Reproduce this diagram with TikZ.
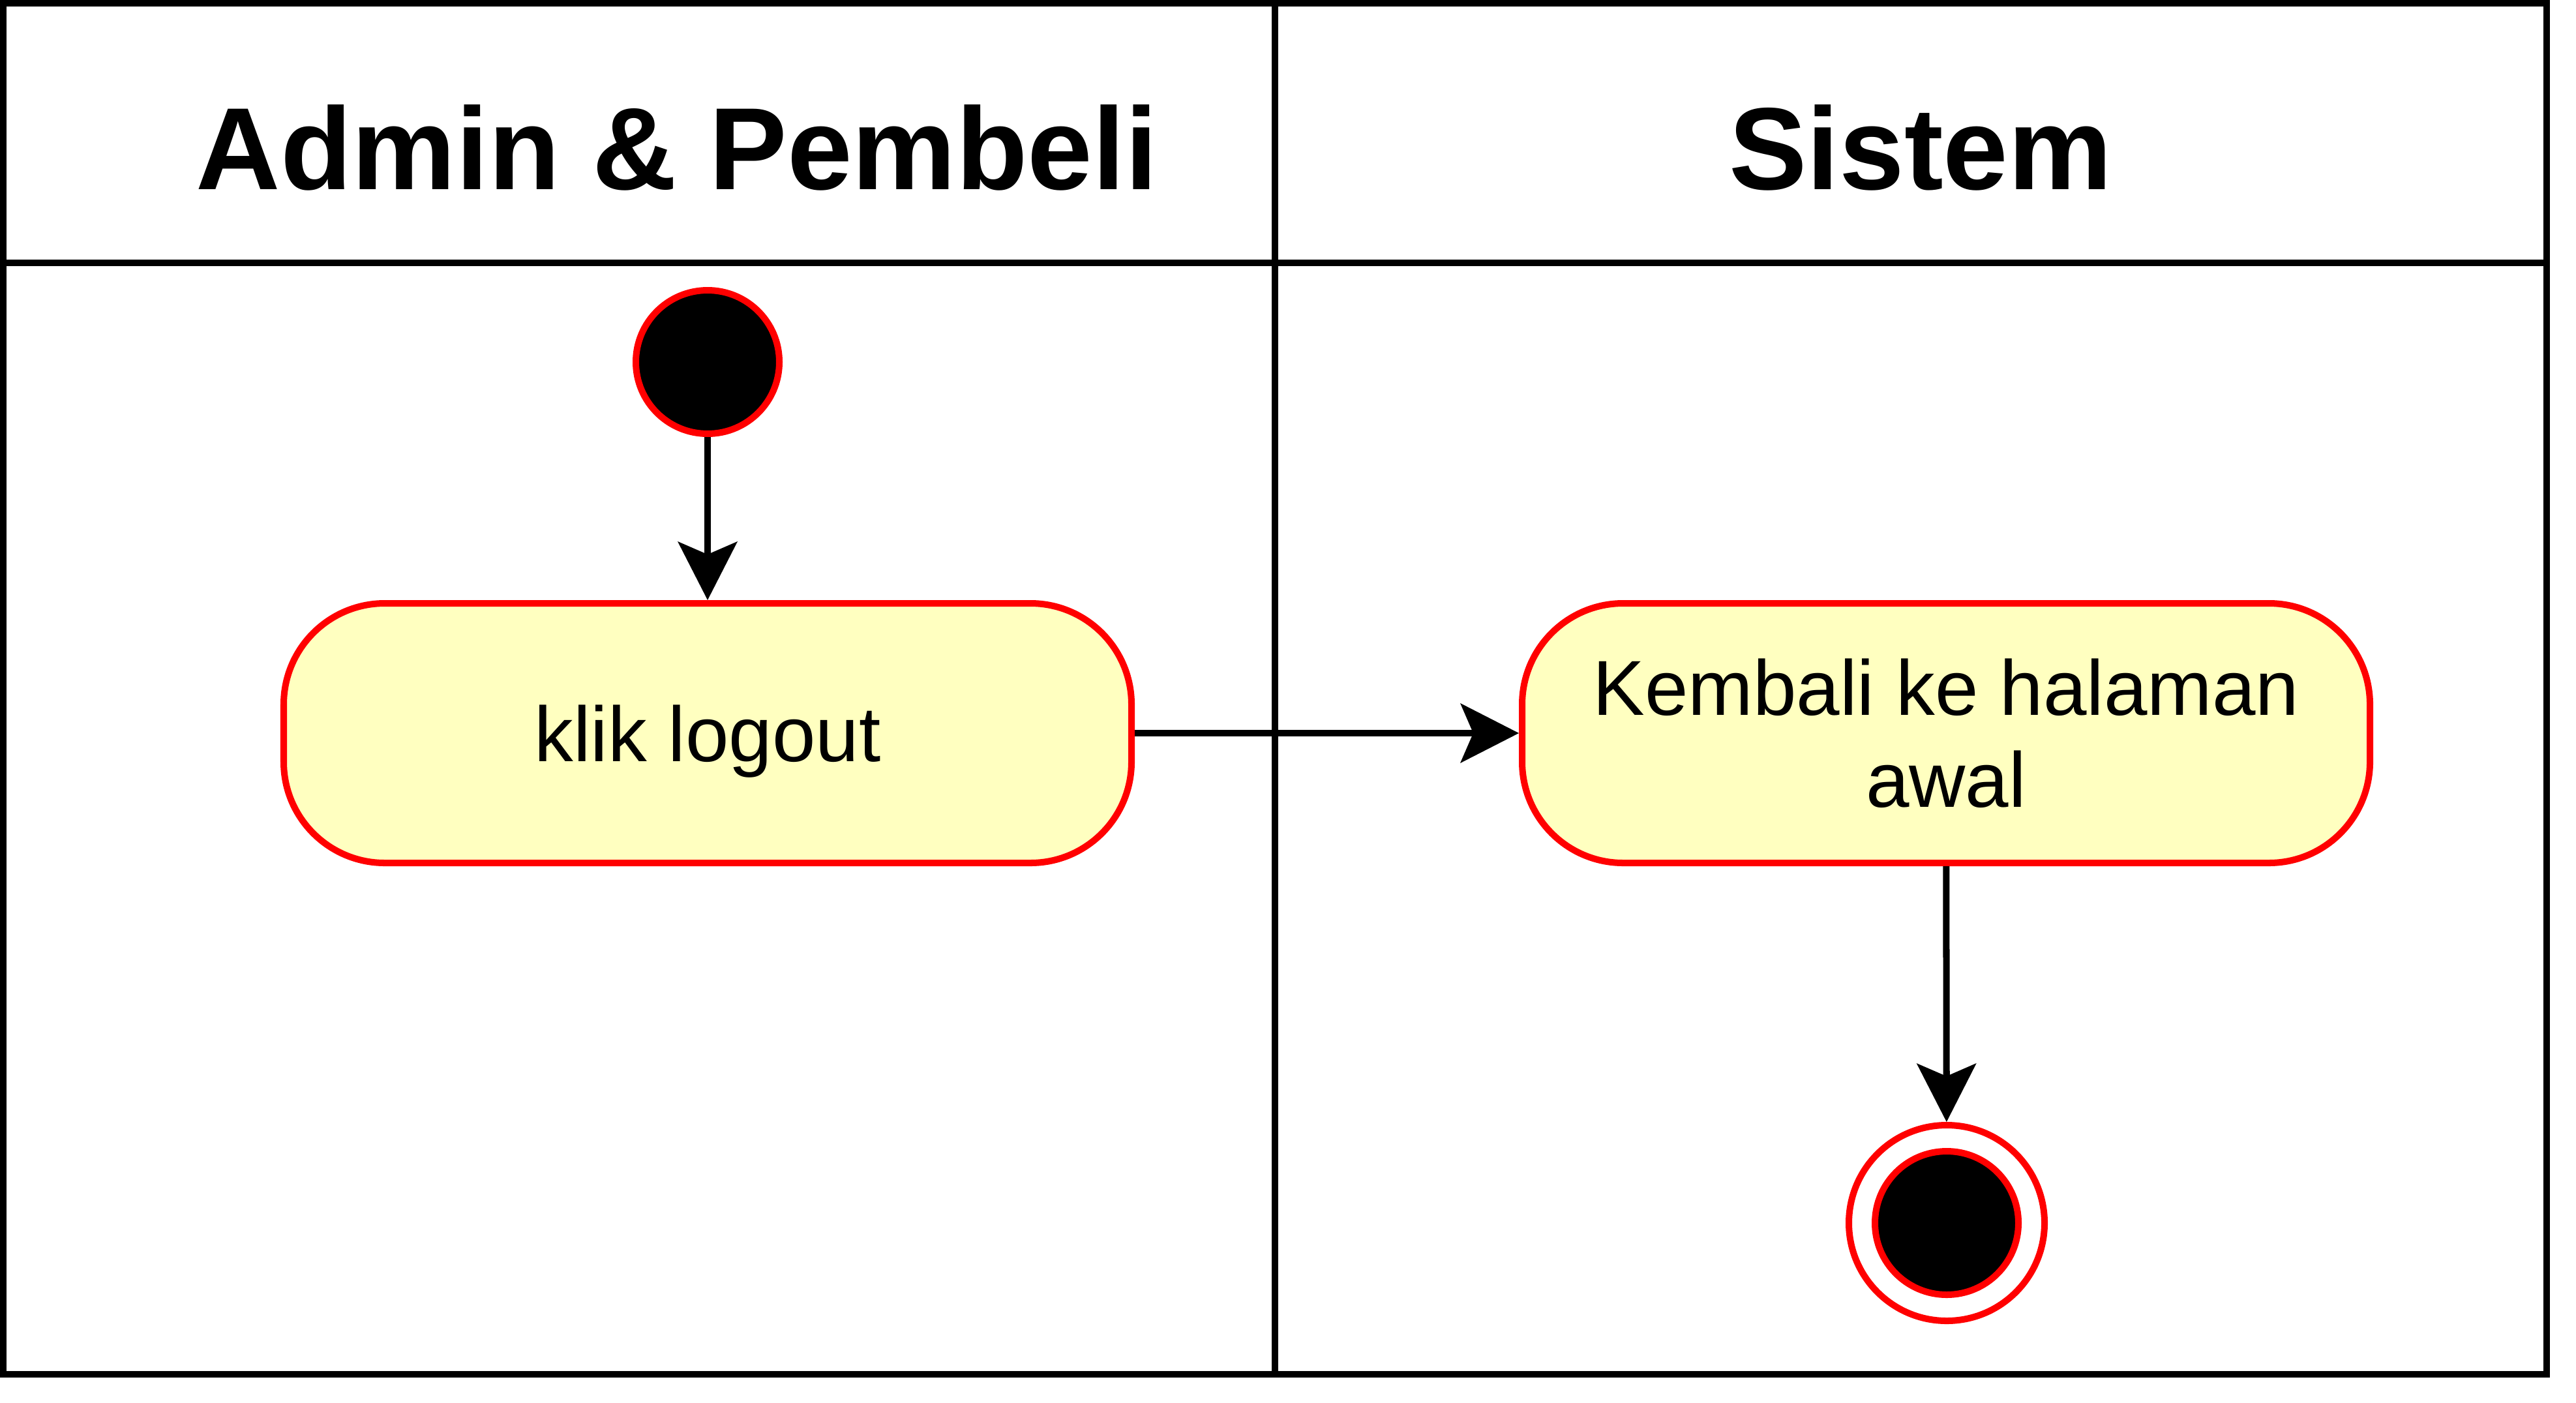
\documentclass[tikz,border=0pt]{standalone}
\usepackage{fontspec}
\setmainfont{Liberation Sans}
\usetikzlibrary{arrows.meta,positioning}
\definecolor{umlRed}{RGB}{255,0,0}
\definecolor{actFill}{RGB}{255,255,192}

\begin{document}
\begin{tikzpicture}[
  >=Stealth,
  lane/.style={
    draw=black,
    line width=2.85pt,
  },
  lanehead/.style={
    font=\fontsize{51}{61}\selectfont\bfseries,
    anchor=base,
    inner sep=0pt,
  },
  aksi/.style={
    rectangle,
    draw=umlRed,
    fill=actFill,
    rounded corners=1.55cm,
    minimum width=13cm,
    minimum height=3.98cm,
    align=center,
    font=\fontsize{34}{40}\selectfont,
    line width=2.85pt,
  },
  awal/.style={
    circle,
    draw=umlRed,
    fill=black,
    inner sep=0pt,
    minimum size=2.2cm,
    line width=2.85pt,
  },
  akhir/.style={
    awal,
    fill=white,
    minimum size=3cm,
  },
  alur/.style={
    -{Stealth[length=0.9cm, width=0.92cm, inset=0.2cm, line width=0pt]},
    line width=2.85pt,
  },
]

  \useasboundingbox (0,0) rectangle (39.5,-21.5);

  % swimlanes
  \draw[lane] (0.05,-0.05) rectangle (39.05,-21.07);
  \draw[lane] (0.05,-4.03) -- (39.05,-4.03);
  \draw[lane] (19.55,-0.05) -- (19.55,-21.07);

  \node[lanehead] (hAdmin) at (10.38,-2.90) {Admin \& Pembeli};
  \node[lanehead] (hSistem) at (29.45,-2.90) {Sistem};

  % activity nodes
  \node[awal] (mulai) at (10.85,-5.55) {};
  \node[aksi, text height=1.11cm] (logout) at (10.85,-11.24) {klik logout};
  \node[aksi] (kembali) at (29.84,-11.24) {Kembali ke halaman\\awal};
  \node[akhir] (selesai) at (29.85,-18.75) {};
  \node[awal] (selesaiDalam) at (selesai) {};

  \draw[alur] (mulai) -- (logout);
  \draw[alur] (logout) -- (kembali);
  \draw[alur] (kembali) -- (selesai);

\end{tikzpicture}
\end{document}
